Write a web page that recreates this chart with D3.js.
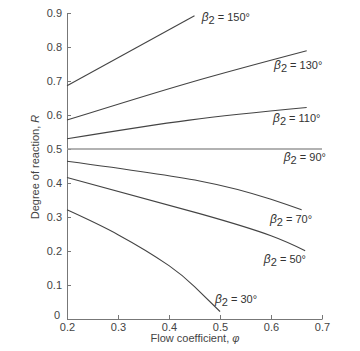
<!DOCTYPE html>
<html>
<head>
<meta charset="utf-8">
<script src="https://cdn.jsdelivr.net/npm/d3@7"></script>
<style>
  body { margin: 0; background: #fff; }
  svg { display: block; font-family: "Liberation Sans", Arial, sans-serif; }
</style>
</head>
<body>
<div id="chart"></div>
<script>
// values
const angles = [150, 130, 110, 90, 70, 50, 30];
const phiPoints = {
  150: [0.2, 0.45],
  130: [0.2, 0.44, 0.67],
  110: [0.2, 0.44, 0.67],
  90:  [0.2, 0.7],
  70:  [0.2, 0.46, 0.60, 0.66],
  50:  [0.2, 0.46, 0.60, 0.667],
  30:  [0.2, 0.3, 0.4, 0.45, 0.5]
};
const rPoints = {
  150: [0.686, 0.892],
  130: [0.585, 0.695, 0.789],
  110: [0.530, 0.585, 0.622],
  90:  [0.5, 0.5],
  70:  [0.464, 0.406, 0.352, 0.321],
  50:  [0.416, 0.310, 0.245, 0.201],
  30:  [0.321, 0.248, 0.157, 0.095, 0.022]
};
const xTicks = [0.2, 0.3, 0.4, 0.5, 0.6, 0.7];
const yTicks = [0, 0.1, 0.2, 0.3, 0.4, 0.5, 0.6, 0.7, 0.8, 0.9];
// label anchor (phi, R) for each curve label
const labelPos = {
  150: [0.464, 0.876],
  130: [0.606, 0.736],
  110: [0.604, 0.58],
  90:  [0.625, 0.465],
  70:  [0.598, 0.283],
  50:  [0.586, 0.165],
  30:  [0.49, 0.047]
};

const width = 360, height = 351;
const margin = {top: 13, right: 38, bottom: 32, left: 67};

let svg = d3.select("#chart").append("svg")
    .attr("width", width)
    .attr("height", height);

let x = d3.scaleLinear()
    .domain([0.2, 0.7])
    .range([margin.left, width - margin.right]);

let y = d3.scaleLinear()
    .domain([0, 0.9])
    .range([height - margin.bottom, margin.top]);

let xAxis = g => g
    .attr("transform", `translate(0,${height - margin.bottom})`)
    .call(d3.axisBottom(x).tickValues(xTicks).tickFormat(d3.format(".1f"))
        .tickSizeInner(-4).tickSizeOuter(0).tickPadding(4))
    .call(g => g.select(".domain").attr("stroke", "#777"))
    .call(g => g.selectAll(".tick line").attr("stroke", "#777"))
    .call(g => g.selectAll(".tick text").attr("fill", "#444").attr("font-size", 11));

let yAxis = g => g
    .attr("transform", `translate(${margin.left},0)`)
    .call(d3.axisLeft(y).tickValues(yTicks).tickFormat(d => d === 0 ? "0" : d3.format(".1f")(d))
        .tickSizeInner(-4).tickSizeOuter(0).tickPadding(5))
    .call(g => g.select(".domain").attr("stroke", "#777"))
    .call(g => g.selectAll(".tick line").attr("stroke", "#777"))
    .call(g => g.selectAll(".tick text").attr("fill", "#444").attr("font-size", 11))
    .call(g => g.selectAll(".tick text").filter(d => d === 0).attr("dy", "-0.05em").attr("x", -7));

svg.append("g").call(xAxis);
svg.append("g").call(yAxis);

// axis titles
svg.append("text")
    .attr("x", 195)
    .attr("y", 342)
    .attr("text-anchor", "middle")
    .attr("font-size", 11)
    .attr("fill", "#444")
    .call(t => t.append("tspan").text("Flow coefficient, "))
    .call(t => t.append("tspan").attr("font-style", "italic").text("φ"));

svg.append("text")
    .attr("transform", "translate(39,167) rotate(-90)")
    .attr("text-anchor", "middle")
    .attr("font-size", 11)
    .attr("fill", "#444")
    .call(t => t.append("tspan").text("Degree of reaction, "))
    .call(t => t.append("tspan").attr("font-style", "italic").text("R"));

let line = d3.line()
    .x(d => x(d[0]))
    .y(d => y(d[1]))
    .curve(d3.curveNatural);

svg.append("g")
    .attr("fill", "none")
    .selectAll("path")
    .data(angles)
    .join("path")
        .attr("stroke", d => d === 90 ? "#999" : "#444")
        .attr("stroke-width", d => d === 90 ? 1.4 : 1.1)
        .attr("d", d => line(phiPoints[d].map((p, i) => [p, rPoints[d][i]])));

svg.append("g")
    .attr("font-size", 11)
    .attr("fill", "#333")
    .selectAll("text")
    .data(angles)
    .join("text")
        .attr("x", d => x(labelPos[d][0]))
        .attr("y", d => y(labelPos[d][1]))
        .call(t => t.append("tspan").attr("font-style", "italic").attr("font-size", 12).text("β"))
        .call(t => t.append("tspan").attr("dy", 3).text("2"))
        .call(t => t.append("tspan").attr("dy", -3).text(d => ` = ${d}°`));
</script>
</body>
</html>
